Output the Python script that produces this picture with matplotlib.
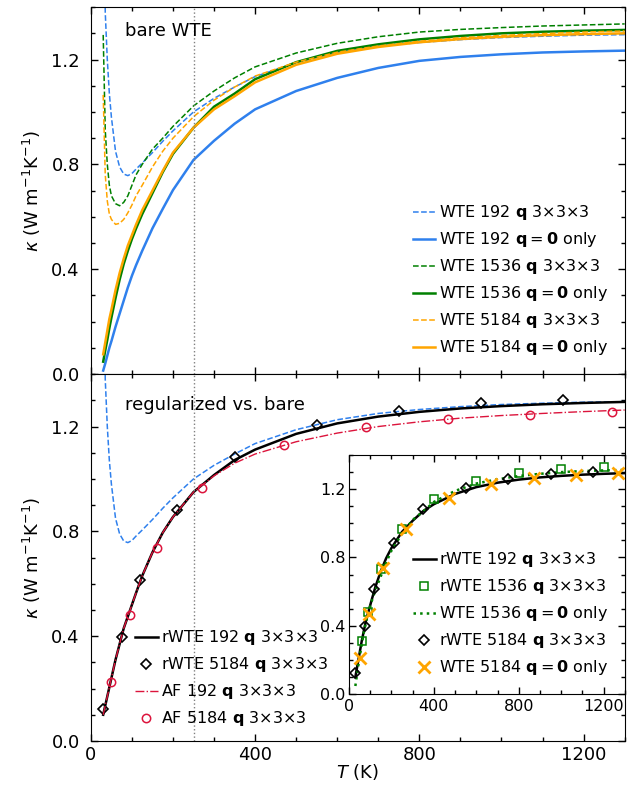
import matplotlib
matplotlib.use("Agg")
import matplotlib.pyplot as plt
from matplotlib.ticker import MultipleLocator, FormatStrFormatter

plt.rcParams['font.family'] = ['DejaVu Sans']
plt.rcParams['mathtext.fontset'] = 'dejavusans'

# ---------------- data ----------------
T_line = [30, 35, 40, 45, 50, 60, 70, 80, 90, 100, 110, 125, 150, 175, 200, 250,
          300, 350, 400, 500, 600, 700, 800, 900, 1000, 1100, 1200, 1300]

wte192_q333 = [2.2, 1.38, 1.20, 1.07, 0.98, 0.85, 0.79, 0.763, 0.757, 0.765, 0.782, 0.805,
               0.845, 0.888, 0.928, 1.0, 1.052, 1.095, 1.135, 1.188, 1.226, 1.25, 1.265,
               1.276, 1.284, 1.289, 1.293, 1.295]
wte192_q0 = [0.013, 0.04, 0.07, 0.10, 0.125, 0.18, 0.23, 0.28, 0.33, 0.375, 0.415, 0.47,
             0.556, 0.63, 0.702, 0.817, 0.89, 0.955, 1.01, 1.08, 1.13, 1.168, 1.195, 1.21,
             1.22, 1.227, 1.231, 1.234]
wte1536_q333 = [1.294, 0.93, 0.80, 0.72, 0.68, 0.65, 0.642, 0.655, 0.68, 0.72, 0.76, 0.80,
                0.858, 0.90, 0.945, 1.023, 1.08, 1.13, 1.172, 1.225, 1.262, 1.287, 1.305,
                1.315, 1.322, 1.328, 1.332, 1.336]
wte1536_q0 = [0.047, 0.09, 0.13, 0.175, 0.215, 0.29, 0.36, 0.42, 0.47, 0.515, 0.555, 0.61,
              0.69, 0.77, 0.84, 0.94, 1.02, 1.07, 1.125, 1.19, 1.233, 1.258, 1.277, 1.29,
              1.30, 1.306, 1.31, 1.313]
wte5184_q333 = [1.065, 0.76, 0.66, 0.61, 0.59, 0.571, 0.575, 0.59, 0.615, 0.645, 0.68, 0.72,
                0.79, 0.85, 0.90, 0.982, 1.045, 1.095, 1.137, 1.19, 1.228, 1.252, 1.27,
                1.283, 1.292, 1.299, 1.305, 1.309]
wte5184_q0 = [0.075, 0.12, 0.165, 0.21, 0.245, 0.32, 0.385, 0.44, 0.49, 0.53, 0.57, 0.625,
              0.70, 0.775, 0.845, 0.94, 1.01, 1.06, 1.113, 1.18, 1.222, 1.248, 1.266, 1.278,
              1.287, 1.293, 1.297, 1.30]
rwte192_q333 = [0.10, 0.135, 0.17, 0.205, 0.24, 0.31, 0.37, 0.43, 0.475, 0.52, 0.565, 0.63,
                0.72, 0.795, 0.855, 0.95, 1.015, 1.072, 1.112, 1.172, 1.212, 1.238, 1.256,
                1.269, 1.278, 1.285, 1.29, 1.294]
af192_q333 = [0.10, 0.135, 0.17, 0.205, 0.24, 0.31, 0.37, 0.43, 0.475, 0.52, 0.565, 0.63,
              0.72, 0.795, 0.855, 0.95, 1.012, 1.06, 1.095, 1.142, 1.175, 1.2, 1.218, 1.232,
              1.242, 1.25, 1.257, 1.263]

T_diamond = [30, 75, 120, 210, 350, 550, 750, 950, 1150]
rwte5184_q333 = [0.123, 0.397, 0.615, 0.882, 1.083, 1.206, 1.261, 1.288, 1.302]

T_circle = [50, 95, 160, 270, 470, 670, 870, 1070, 1270]
af5184_q333 = [0.224, 0.481, 0.737, 0.965, 1.131, 1.197, 1.228, 1.245, 1.255]
wte5184_q0_pts = [0.21, 0.47, 0.737, 0.964, 1.151, 1.233, 1.266, 1.286, 1.297]

T_square = [60, 90, 150, 250, 400, 600, 800, 1000, 1200]
rwte1536_q333 = [0.31, 0.48, 0.73, 0.965, 1.14, 1.249, 1.293, 1.319, 1.330]

T_mark = 250

# ---------------- style ----------------
BLUE = '#2f80ed'
GREEN = 'green'
ORANGE = 'orange'
RED = 'crimson'

q333 = r' $\mathbf{q}$ 3×3×3'
q0 = r' $\mathbf{q}=\mathbf{0}$ only'

fig = plt.figure(figsize=(6.4, 7.94), dpi=100)
ax1 = fig.add_axes([0.142, 0.529, 0.834, 0.462])
ax2 = fig.add_axes([0.142, 0.0668, 0.834, 0.462])


def style(ax, fs=13, ypad=8):
    ax.set_xlim(0, 1300)
    ax.set_ylim(0, 1.4)
    ax.xaxis.set_major_locator(MultipleLocator(400))
    ax.xaxis.set_minor_locator(MultipleLocator(100))
    ax.yaxis.set_major_locator(MultipleLocator(0.4))
    ax.yaxis.set_minor_locator(MultipleLocator(0.1))
    ax.tick_params(which='both', direction='in', top=True, right=True, labelsize=fs)
    ax.tick_params(which='major', length=5, width=1)
    ax.tick_params(which='minor', length=3, width=1)
    ax.tick_params(axis='y', which='major', pad=ypad)
    ax.yaxis.set_major_formatter(FormatStrFormatter('%.1f'))


leg_kw = dict(frameon=False, fontsize=11.5, handlelength=1.4, handletextpad=0.2,
              labelspacing=0.5)

# ---- top panel ----
ax1.plot(T_line, wte192_q333, '--', color=BLUE, lw=1.1, label='WTE 192' + q333)
ax1.plot(T_line, wte192_q0, '-', color=BLUE, lw=1.8, label='WTE 192' + q0)
ax1.plot(T_line, wte1536_q333, '--', color=GREEN, lw=1.1, label='WTE 1536' + q333)
ax1.plot(T_line, wte1536_q0, '-', color=GREEN, lw=1.8, label='WTE 1536' + q0)
ax1.plot(T_line, wte5184_q333, '--', color=ORANGE, lw=1.1, label='WTE 5184' + q333)
ax1.plot(T_line, wte5184_q0, '-', color=ORANGE, lw=1.8, label='WTE 5184' + q0)
ax1.axvline(T_mark, color='gray', ls=':', lw=1)
style(ax1)
ax1.tick_params(labelbottom=False)
ax1.set_ylabel(r'$\kappa$ (W m$^{-1}$K$^{-1}$)', fontsize=13, labelpad=6)
ax1.text(0.063, 0.935, 'bare WTE', transform=ax1.transAxes, fontsize=13, va='center')
ax1.legend(loc='lower right', borderaxespad=0.65, **leg_kw)

# ---- bottom panel ----
ax2.plot(T_line, wte192_q333, '--', color=BLUE, lw=1.1)
ax2.plot(T_line, rwte192_q333, '-', color='black', lw=1.8, label='rWTE 192' + q333)
ax2.plot(T_diamond, rwte5184_q333, 'D', mfc='none', mec='black', ms=5.5, mew=1.2,
         ls='none', label='rWTE 5184' + q333)
ax2.plot(T_line, af192_q333, '-.', color=RED, lw=1.0, label='AF 192' + q333)
ax2.plot(T_circle, af5184_q333, 'o', mfc='none', mec=RED, ms=6, mew=1.1,
         ls='none', label='AF 5184' + q333)
ax2.axvline(T_mark, color='gray', ls=':', lw=1)
style(ax2)
ax2.set_ylabel(r'$\kappa$ (W m$^{-1}$K$^{-1}$)', fontsize=13, labelpad=6)
ax2.set_xlabel(r'$T$ (K)', fontsize=13, labelpad=-1)
ax2.text(0.063, 0.915, 'regularized vs. bare', transform=ax2.transAxes, fontsize=13,
         va='center')
ax2.legend(loc='lower left', bbox_to_anchor=(0.059, 0.0), borderaxespad=0.4, **leg_kw)

# ---- inset ----
axi = fig.add_axes([0.5453, 0.1259, 0.431, 0.301])
axi.plot(T_line, rwte192_q333, '-', color='black', lw=1.8, label='rWTE 192' + q333)
axi.plot(T_square, rwte1536_q333, 's', mfc='none', mec=GREEN, ms=6, mew=1.1,
         ls='none', label='rWTE 1536' + q333)
axi.plot(T_line, wte1536_q0, ':', color=GREEN, lw=1.8, label='WTE 1536' + q0)
axi.plot(T_diamond, rwte5184_q333, 'D', mfc='none', mec='black', ms=5.5, mew=1.2,
         ls='none', label='rWTE 5184' + q333)
axi.plot(T_circle, wte5184_q0_pts, 'x', color=ORANGE, ms=8, mew=2,
         ls='none', label='WTE 5184' + q0)
style(axi, fs=11.5, ypad=2.5)
axi.legend(loc='lower right', borderaxespad=0.65, **leg_kw)

fig.savefig('out.png', dpi=100)
